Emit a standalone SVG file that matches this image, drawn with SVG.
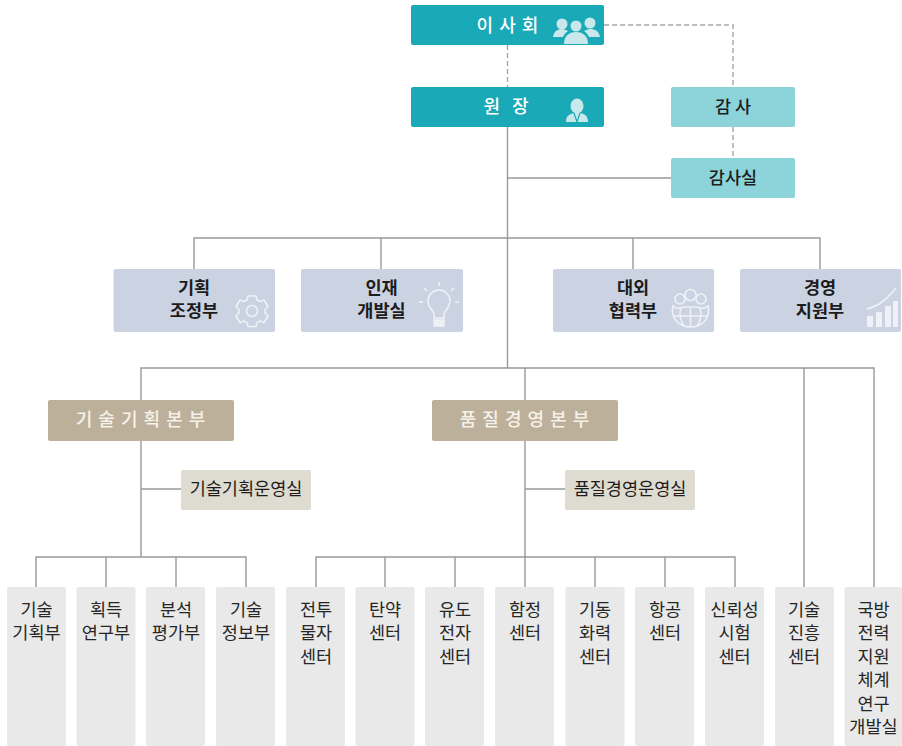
<svg xmlns="http://www.w3.org/2000/svg" width="902" height="746" viewBox="0 0 902 746">
<style>
text{font-family:"Noto Sans CJK KR","Noto Sans",sans-serif;text-anchor:middle}
.c{fill:none;stroke:#999;stroke-width:1.4}
.d{fill:none;stroke:#a6a6a6;stroke-width:1.4;stroke-dasharray:5 3}
.teal{fill:#1aa9b7}.lt{fill:#8dd4da}.blue{fill:#cbd3e2}.tan{fill:#bdb09b}.sand{fill:#dedbd0}.gray{fill:#e9e9e9}
.w{fill:#fff;font-size:18px;font-weight:500;letter-spacing:1px}
.k{fill:#1c1c1c;font-size:17.5px;font-weight:500}
.b{fill:#1c1c1c;font-size:17.5px;font-weight:700}
.l{fill:#262626;font-size:17.5px}
.ic{fill:none;stroke:#eef1f6;stroke-width:1.6}
.if{fill:#eef1f6}
.it{fill:#c8e8ec}
</style>
<g id="connectors">
<path class="d" d="M507.500 45V87M604 25H733V87M733 127V158"/>
<path class="c" d="M507.500 127V368M507.500 178H671M194 269V238H820V269M381 238V269M633 238V269"/>
<path class="c" d="M141 400V368H874V587M804 368V587M525 368V400"/>
<path class="c" d="M141 441V557M141 489H181M36 587V557H246V587M106 557V587M176 557V587"/>
<path class="c" d="M525 441V557M525 489H565M316 587V557H735V587M385 557V587M455 557V587M525 557V587M595 557V587M665 557V587"/>
</g>
<g id="board"><rect class="teal" x="411" y="5" width="193" height="40" rx="2"/><text class="w" x="508" y="32">이 사 회</text>
<g class="it"><circle cx="562" cy="24" r="5.500"/><circle cx="590" cy="23" r="5.500"/><circle cx="576" cy="26" r="5.500"/><path d="M553 37c1-6 5-8 9-8 2 0 4 1 6 2-3 2-4 4-5 6zM600 37c-1-6-5-8-10-8-2 0-4 1-6 2 3 2 4 4 5 6z"/><path d="M564 44c0-9 6-12 12-12s12 3 12 12z"/></g></g>
<g id="president"><rect class="teal" x="411" y="87" width="193" height="40" rx="2"/><text class="w" x="508" y="113" style="letter-spacing:4px">원 장</text>
<g class="it"><ellipse cx="577" cy="106" rx="6.500" ry="7.500"/><path d="M566 122c0-6 3-8 8-9h6c5 1 8 3 8 9z"/><path d="M574 113l3 9 3-9" fill="none" stroke="#1aa9b7" stroke-width="1.200"/></g></g>
<g id="auditor"><rect class="lt" x="671" y="87" width="124" height="40" rx="2"/><text class="k" x="733" y="113">감 사</text></g>
<g id="audit-office"><rect class="lt" x="671" y="158" width="124" height="40" rx="2"/><text class="k" x="733" y="184">감사실</text></g>

<g id="planning"><rect class="blue" x="113.500" y="269" width="161.500" height="63" rx="2"/><text class="b" x="194" y="294">기획</text><text class="b" x="194" y="317">조정부</text>
<g class="ic"><circle cx="252" cy="311" r="5.500"/><path d="M248 296h8l1 4 3 1.500 4-1.500 4 6.500-3 3v3.500l3 3-4 6.500-4-1.500-3 1.500-1 4h-8l-1-4-3-1.500-4 1.500-4-6.500 3-3v-3.500l-3-3 4-6.500 4 1.500 3-1.500z"/></g></g>
<g id="hr"><rect class="blue" x="301" y="269" width="162" height="63" rx="2"/><text class="b" x="381.500" y="294">인재</text><text class="b" x="381.500" y="317">개발실</text>
<g class="ic"><path d="M434 318v-4c0-3-6-6-6-13a11 11 0 0 1 22 0c0 7-6 10-6 13v4z"/><path class="if" d="M434 320h10v6h-10z"/><path d="M439 286v-4M427 291l-3-3M451 291l3-3M423 302h-4M455 302h4"/></g></g>
<g id="external"><rect class="blue" x="553" y="269" width="161" height="63" rx="2"/><text class="b" x="633" y="294">대외</text><text class="b" x="633" y="317">협력부</text>
<g class="ic"><circle cx="690.500" cy="295" r="5.500"/><circle cx="680" cy="299" r="5"/><circle cx="701" cy="299" r="5"/><path d="M673 306c-3 12 6 21 17.500 21s20.500-9 17.500-21c-3 3-8 3-10 1h-15c-2 2-7 2-10-1zM681 308c-2 6-1 12 3 18M700 308c2 6 1 12-3 18M690.500 308v19M673 316h35"/></g></g>
<g id="management"><rect class="blue" x="740" y="269" width="161" height="63" rx="2"/><text class="b" x="820" y="294">경영</text><text class="b" x="820" y="317">지원부</text>
<g><path class="ic" d="M867 309c12-3 20-10 29-21"/><path class="if" d="M867 316h6v11h-6zM876 312h6v15h-6zM885 306h6v21h-6zM893 301h5v26h-5z"/></g></g>

<g id="tech-hq"><rect class="tan" x="48" y="400" width="186" height="41" rx="2"/><text class="w" x="141" y="426" style="fill:#f6f2ea">기 술 기 획 본 부</text></g>
<g id="quality-hq"><rect class="tan" x="432" y="400" width="186" height="41" rx="2"/><text class="w" x="525" y="426" style="fill:#f6f2ea">품 질 경 영 본 부</text></g>
<g id="tech-office"><rect class="sand" x="181" y="470" width="130" height="40" rx="2"/><text class="k" x="246" y="495" style="font-weight:400">기술기획운영실</text></g>
<g id="quality-office"><rect class="sand" x="565" y="470" width="130" height="40" rx="2"/><text class="k" x="630" y="495" style="font-weight:400">품질경영운영실</text></g>

<g id="leaf1"><rect class="gray" x="7" y="587" width="59" height="159" rx="2"/><text class="l" x="36.500" y="616">기술</text><text class="l" x="36.500" y="639">기획부</text></g>
<g id="leaf2"><rect class="gray" x="76.500" y="587" width="59" height="159" rx="2"/><text class="l" x="106" y="616">획득</text><text class="l" x="106" y="639">연구부</text></g>
<g id="leaf3"><rect class="gray" x="146" y="587" width="59" height="159" rx="2"/><text class="l" x="176" y="616">분석</text><text class="l" x="176" y="639">평가부</text></g>
<g id="leaf4"><rect class="gray" x="216" y="587" width="59" height="159" rx="2"/><text class="l" x="246" y="616">기술</text><text class="l" x="246" y="639">정보부</text></g>
<g id="leaf5"><rect class="gray" x="286" y="587" width="59" height="159" rx="2"/><text class="l" x="316" y="616">전투</text><text class="l" x="316" y="639">물자</text><text class="l" x="316" y="663">센터</text></g>
<g id="leaf6"><rect class="gray" x="355.500" y="587" width="59" height="159" rx="2"/><text class="l" x="385" y="616">탄약</text><text class="l" x="385" y="639">센터</text></g>
<g id="leaf7"><rect class="gray" x="425" y="587" width="59" height="159" rx="2"/><text class="l" x="455" y="616">유도</text><text class="l" x="455" y="639">전자</text><text class="l" x="455" y="663">센터</text></g>
<g id="leaf8"><rect class="gray" x="495" y="587" width="59" height="159" rx="2"/><text class="l" x="525" y="616">함정</text><text class="l" x="525" y="639">센터</text></g>
<g id="leaf9"><rect class="gray" x="565.500" y="587" width="59" height="159" rx="2"/><text class="l" x="595" y="616">기동</text><text class="l" x="595" y="639">화력</text><text class="l" x="595" y="663">센터</text></g>
<g id="leaf10"><rect class="gray" x="635" y="587" width="59" height="159" rx="2"/><text class="l" x="665" y="616">항공</text><text class="l" x="665" y="639">센터</text></g>
<g id="leaf11"><rect class="gray" x="705" y="587" width="59" height="159" rx="2"/><text class="l" x="734.500" y="616">신뢰성</text><text class="l" x="734.500" y="639">시험</text><text class="l" x="734.500" y="663">센터</text></g>
<g id="leaf12"><rect class="gray" x="775" y="587" width="59" height="159" rx="2"/><text class="l" x="804" y="616">기술</text><text class="l" x="804" y="639">진흥</text><text class="l" x="804" y="663">센터</text></g>
<g id="leaf13"><rect class="gray" x="844.500" y="587" width="57.500" height="159" rx="2"/><text class="l" x="873.500" y="616">국방</text><text class="l" x="873.500" y="639">전력</text><text class="l" x="873.500" y="663">지원</text><text class="l" x="873.500" y="686">체계</text><text class="l" x="873.500" y="710">연구</text><text class="l" x="873.500" y="733">개발실</text></g>
</svg>
